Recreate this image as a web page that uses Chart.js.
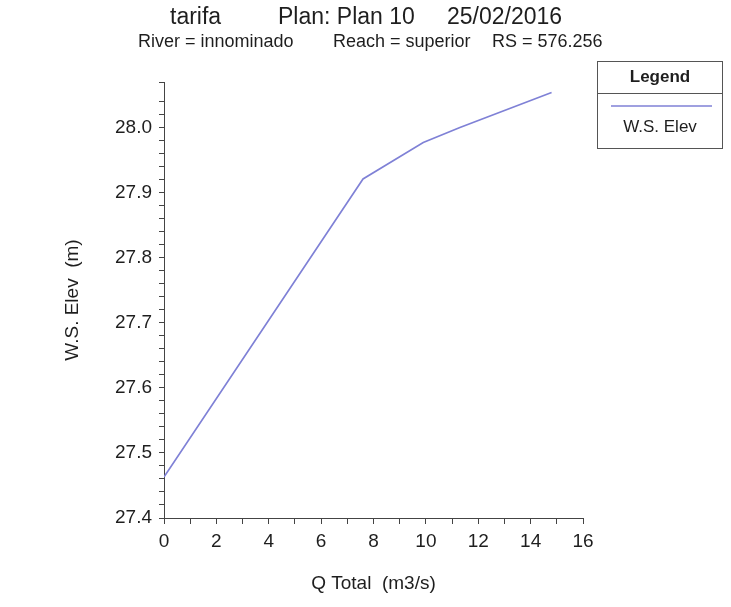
<!DOCTYPE html>
<html>
<head>
<meta charset="utf-8">
<script src="https://cdn.jsdelivr.net/npm/chart.js@4/dist/chart.umd.min.js"></script>
<style>
  html, body { margin: 0; padding: 0; background: #fff; }
  #wrap { width: 731px; height: 607px; }
</style>
</head>
<body>
<div id="wrap"><canvas id="rating"></canvas></div>
<script>
// rating curve
var qTotal = [0, 7.6, 9.9, 11.3, 14.8];
var wsElev = [27.463, 27.921, 27.977, 28.0, 28.054];
var seriesName = "W.S. Elev";
var lineColor = "#7f81d6";
var textColor = "#1e1e1e";
var fontFam = "'Liberation Sans', Arial, sans-serif";

var points = qTotal.map(function (q, i) { return { x: q, y: wsElev[i] }; });

// titles and the boxed legend, drawn on top of the chart
var decor = {
    id: "decor",
    afterDraw: function (chart) {
        var ctx = chart.ctx;
        ctx.save();
        ctx.fillStyle = textColor;
        ctx.textBaseline = "middle";
        ctx.textAlign = "left";
        ctx.font = "23px " + fontFam;
        ctx.fillText("tarifa", 170, 18);
        ctx.fillText("Plan: Plan 10", 278, 18);
        ctx.fillText("25/02/2016", 447, 18);
        ctx.font = "18px " + fontFam;
        ctx.fillText("River = innominado", 138, 42);
        ctx.fillText("Reach = superior", 333, 42);
        ctx.fillText("RS = 576.256", 492, 42);

        // legend box
        var ds = chart.data.datasets[0];
        ctx.strokeStyle = "#555";
        ctx.lineWidth = 1;
        ctx.strokeRect(597.5, 61.5, 125, 87);
        ctx.beginPath();
        ctx.moveTo(597, 93.5);
        ctx.lineTo(722, 93.5);
        ctx.stroke();
        ctx.textAlign = "center";
        ctx.font = "bold 17px " + fontFam;
        ctx.fillText("Legend", 660, 77);
        ctx.strokeStyle = ds.borderColor;
        ctx.lineWidth = 1.5;
        ctx.beginPath();
        ctx.moveTo(611, 106);
        ctx.lineTo(712, 106);
        ctx.stroke();
        ctx.font = "17px " + fontFam;
        ctx.fillText(ds.label, 660, 127);
        ctx.restore();
    }
};

var ctx1 = document.getElementById("rating").getContext("2d");
var chart1 = new Chart(ctx1, {
    type: "line",
    data: {
        datasets: [{
            label: seriesName,
            data: points,
            borderColor: lineColor,
            borderWidth: 1.6,
            pointRadius: 0,
            fill: false,
            tension: 0
        }]
    },
    options: {
        responsive: true,
        maintainAspectRatio: false,
        animation: false,
        layout: { padding: { top: 82, right: 148, left: 57, bottom: 12 } },
        plugins: {
            legend: { display: false },
            tooltip: { enabled: false }
        },
        scales: {
            x: {
                type: "linear",
                min: 0,
                max: 16,
                afterFit: function (s) { s.height = 77; },
                ticks: {
                    stepSize: 1,
                    autoSkip: false,
                    maxRotation: 0,
                    padding: 6,
                    color: textColor,
                    font: { family: fontFam, size: 19 },
                    callback: function (v) { return v % 2 === 0 ? String(v) : ""; }
                },
                grid: { drawOnChartArea: false, drawTicks: true, tickLength: 6, color: "#444" },
                border: { color: "#444", width: 1 },
                title: {
                    display: true,
                    text: "Q Total  (m3/s)",
                    color: textColor,
                    font: { family: fontFam, size: 19 },
                    padding: { top: 20, bottom: 0 }
                }
            },
            y: {
                type: "linear",
                min: 27.4,
                max: 28.07,
                afterFit: function (s) { s.width = 107; },
                ticks: {
                    stepSize: 0.02,
                    autoSkip: false,
                    maxTicksLimit: 100,
                    padding: 7,
                    color: textColor,
                    font: { family: fontFam, size: 19 },
                    callback: function (v) {
                        var t = v * 10;
                        return Math.abs(t - Math.round(t)) < 1e-6 ? v.toFixed(1) : "";
                    }
                },
                grid: { drawOnChartArea: false, drawTicks: true, tickLength: 5, color: "#444" },
                border: { color: "#444", width: 1 },
                title: {
                    display: true,
                    text: "W.S. Elev  (m)",
                    color: textColor,
                    font: { family: fontFam, size: 19 },
                    padding: 4
                }
            }
        }
    },
    plugins: [decor]
});
</script>
</body>
</html>
